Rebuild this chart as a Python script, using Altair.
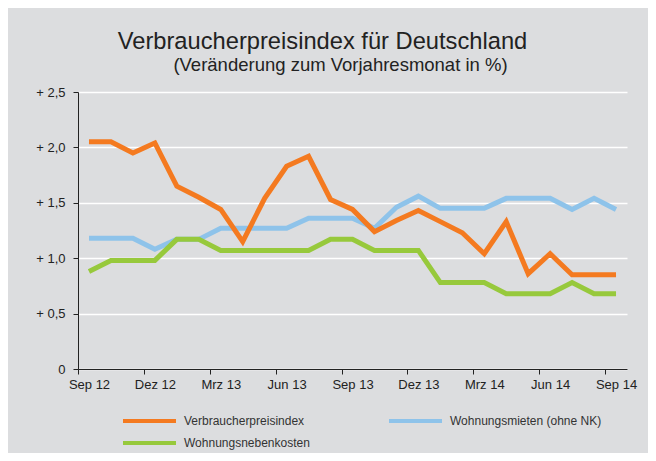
import altair as alt
import pandas as pd

months = ["Sep 12", "Okt 12", "Nov 12", "Dez 12", "Jan 13", "Feb 13", "Mrz 13",
          "Apr 13", "Mai 13", "Jun 13", "Jul 13", "Aug 13", "Sep 13", "Okt 13",
          "Nov 13", "Dez 13", "Jan 14", "Feb 14", "Mrz 14", "Apr 14", "Mai 14",
          "Jun 14", "Jul 14", "Aug 14", "Sep 14"]

series_names = ["Verbraucherpreisindex", "Wohnungsmieten (ohne NK)", "Wohnungsnebenkosten"]
series_colors = ["#F47A20", "#8EC3EA", "#97C93C"]

vpi = [2.05, 2.05, 1.95, 2.04, 1.65, 1.55, 1.44, 1.15, 1.54, 1.83, 1.92, 1.53, 1.44,
       1.24, 1.34, 1.43, 1.33, 1.23, 1.04, 1.33, 0.86, 1.04, 0.85, 0.85, 0.85]
mieten = [1.18, 1.18, 1.18, 1.08, 1.17, 1.17, 1.27, 1.27, 1.27, 1.27, 1.36, 1.36, 1.36,
          1.27, 1.46, 1.56, 1.45, 1.45, 1.45, 1.54, 1.54, 1.54, 1.44, 1.54, 1.44]
neben = [0.88, 0.98, 0.98, 0.98, 1.17, 1.17, 1.07, 1.07, 1.07, 1.07, 1.07, 1.17, 1.17,
         1.07, 1.07, 1.07, 0.78, 0.78, 0.78, 0.68, 0.68, 0.68, 0.78, 0.68, 0.68]

y_ticks = [0, 0.5, 1.0, 1.5, 2.0, 2.5]
label_step = 3

rows = []
for name, vals in zip(series_names, [vpi, mieten, neben]):
    for i, (m, v) in enumerate(zip(months, vals)):
        rows.append({"idx": i, "Monat": m, "Serie": name, "Wert": v})
df = pd.DataFrame(rows)

label_idx = list(range(0, len(months), label_step))
tick_vals = [i - 0.5 for i in label_idx]
label_list = "[" + ",".join("'" + months[i] + "'" for i in label_idx) + "]"
x_label_expr = label_list + "[round((datum.value + 0.5) / " + str(label_step) + ")]"

W, H = 549, 277
n = len(months)

x = alt.X("idx:Q",
          scale=alt.Scale(domain=[-0.5, n - 0.5], nice=False, zero=False),
          axis=alt.Axis(values=tick_vals, labelExpr=x_label_expr,
                        labelOffset=W / n / 2, labelFlush=False, labelOverlap=False,
                        title=None, grid=False, tickSize=5, tickColor="#222",
                        domainColor="#222", labelFontSize=13, labelColor="#222",
                        labelPadding=4, zindex=1))
y = alt.Y("Wert:Q",
          scale=alt.Scale(domain=[0, 2.5], nice=False),
          axis=alt.Axis(values=y_ticks,
                        labelExpr="datum.value == 0 ? '0' : '+ ' + replace(format(datum.value, '.1f'), '.', ',')",
                        title=None, grid=True, gridColor="white", gridWidth=1.5,
                        tickSize=5, tickColor="#222", domainColor="#222",
                        labelFontSize=13, labelColor="#222", labelPadding=8))
color = alt.Color("Serie:N",
                  scale=alt.Scale(domain=series_names, range=series_colors),
                  legend=alt.Legend(title=None, orient="none", legendX=43, legendY=322,
                                    columns=2, direction="horizontal",
                                    symbolType="stroke", symbolSize=2809,
                                    symbolStrokeWidth=4, clipHeight=14,
                                    labelFontSize=12, labelColor="#333",
                                    labelOffset=6, columnPadding=77, rowPadding=8))

base = alt.Chart(df).mark_line(strokeWidth=5, strokeJoin="miter").encode(
    x=x, y=y, color=color)

layers = [base.transform_filter(alt.datum.Serie == s) for s in
          ["Wohnungsmieten (ohne NK)", "Wohnungsnebenkosten", "Verbraucherpreisindex"]]

chart = alt.layer(*layers).properties(
    width=W, height=H,
    title=alt.TitleParams(
        text="Verbraucherpreisindex für Deutschland",
        subtitle="\u200b" + "\u00a0" * 7 + "(Veränderung zum Vorjahresmonat in %)",
        fontSize=23.7, fontWeight="normal", color="#222",
        subtitleFontSize=18.5, subtitleColor="#222",
        anchor="middle", frame="group", dx=-30, offset=12, subtitlePadding=2),
    autosize=alt.AutoSizeParams(type="none"),
    padding={"left": 70, "top": 84, "right": 21, "bottom": 84},
).configure(
    background="#DCDDDF", font="Liberation Sans"
).configure_view(stroke=None)

chart.save("out.html", embed_options={"renderer": "svg", "actions": False})
